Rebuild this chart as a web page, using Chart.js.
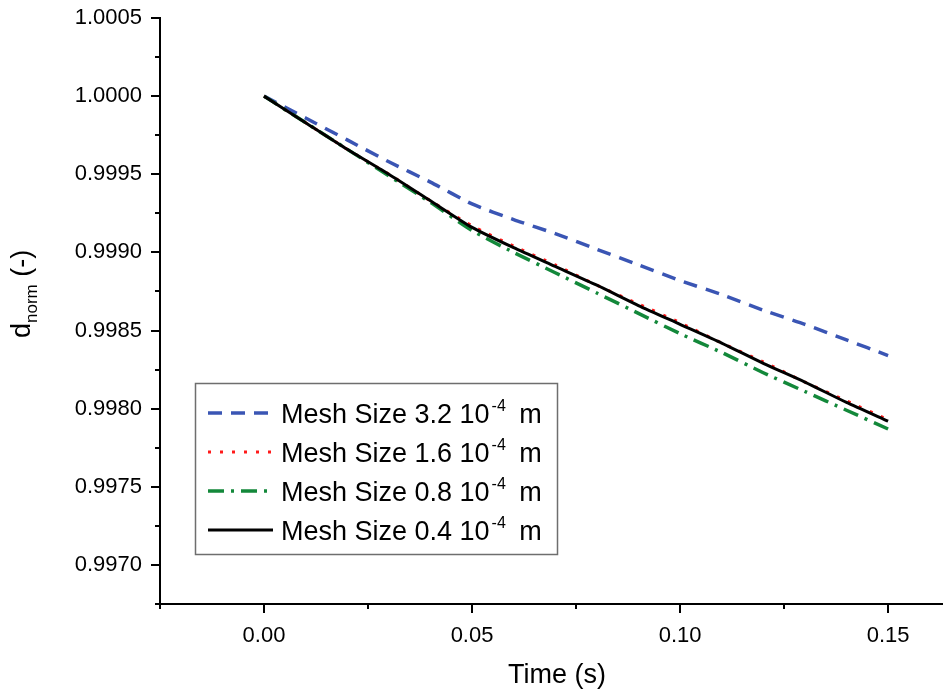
<!DOCTYPE html>
<html lang="en">
<head>
    <meta charset="UTF-8">
    <title>Mesh size study</title>
    <style>
        body { margin: 0; background: #ffffff; }
        #wrap { width: 943px; height: 691px; }
    </style>
</head>
<body>
    <div id="wrap"><canvas id="meshChart" width="943" height="691"></canvas></div>
    <script src="https://cdn.jsdelivr.net/npm/chart.js"></script>
    <script>
        // time (s)
        const times = [0, 0.01, 0.02, 0.03, 0.04, 0.05, 0.06, 0.07, 0.08, 0.09, 0.10, 0.11, 0.12, 0.13, 0.14, 0.15];
        // d_norm for each mesh size
        const mesh32 = [1.0, 0.99986, 0.99972, 0.99958, 0.99945, 0.99931, 0.99921, 0.99912, 0.99902, 0.99892, 0.99882, 0.99873, 0.99863, 0.99854, 0.99844, 0.99834];
        const mesh16 = [1.0, 0.99983, 0.99966, 0.99950, 0.99933, 0.99917, 0.99904, 0.99892, 0.99879, 0.99867, 0.99855, 0.99842, 0.99830, 0.99817, 0.99805, 0.99793];
        const mesh08 = [1.0, 0.99983, 0.99966, 0.99949, 0.99932, 0.99914, 0.99900, 0.99887, 0.99874, 0.99861, 0.99848, 0.99836, 0.99823, 0.99811, 0.99799, 0.99787];
        const mesh04 = [1.0, 0.99983, 0.99966, 0.99950, 0.99933, 0.99916, 0.99903, 0.99891, 0.99879, 0.99866, 0.99854, 0.99842, 0.99829, 0.99817, 0.99804, 0.99792];

        const seriesNames = ['Mesh Size 3.2 10', 'Mesh Size 1.6 10', 'Mesh Size 0.8 10', 'Mesh Size 0.4 10'];
        const xTicks = [0, 0.05, 0.10, 0.15];
        const xMinorTicks = [-0.025, 0.025, 0.075, 0.125];
        const yTicks = [0.9970, 0.9975, 0.9980, 0.9985, 0.9990, 0.9995, 1.0000, 1.0005];
        const yMinorTicks = [0.99675, 0.99725, 0.99775, 0.99825, 0.99875, 0.99925, 0.99975, 1.00025];

        const FONT = 'Liberation Sans, Arial, sans-serif';

        function pts(arr) {
            return times.map((t, i) => ({ x: t, y: arr[i] }));
        }

        const styles = [
            { color: '#3a55b4', dash: [14, 9], width: 3.5 },
            { color: '#ff1a1a', dash: [3, 9], width: 3 },
            { color: '#13883a', dash: [16, 7, 3, 7], width: 3.5 },
            { color: '#000000', dash: [], width: 3 }
        ];

        // ticks, axis titles and the boxed legend
        const extras = {
            id: 'extras',
            afterDraw(chart) {
                const ctx = chart.ctx;
                const area = chart.chartArea;
                const xs = chart.scales.x, ys = chart.scales.y;
                ctx.save();
                ctx.strokeStyle = '#000';
                ctx.lineWidth = 2;
                ctx.setLineDash([]);
                ctx.beginPath();
                yTicks.forEach(v => { const p = Math.round(ys.getPixelForValue(v)); ctx.moveTo(area.left - 9, p); ctx.lineTo(area.left, p); });
                yMinorTicks.forEach(v => { const p = Math.round(ys.getPixelForValue(v)); ctx.moveTo(area.left - 5, p); ctx.lineTo(area.left, p); });
                xTicks.forEach(v => { const p = Math.round(xs.getPixelForValue(v)); ctx.moveTo(p, area.bottom); ctx.lineTo(p, area.bottom + 9); });
                xMinorTicks.forEach(v => { const p = Math.round(xs.getPixelForValue(v)); ctx.moveTo(p, area.bottom); ctx.lineTo(p, area.bottom + 5); });
                ctx.stroke();

                ctx.fillStyle = '#000';
                ctx.font = '27px ' + FONT;
                ctx.textAlign = 'center';
                ctx.textBaseline = 'alphabetic';
                ctx.fillText('Time (s)', 557, 683);

                // y title: d_norm (-)
                ctx.translate(30, 338);
                ctx.rotate(-Math.PI / 2);
                ctx.textAlign = 'left';
                ctx.font = '27px ' + FONT;
                ctx.fillText('d', 0, 0);
                let w = ctx.measureText('d').width;
                ctx.font = '17px ' + FONT;
                ctx.fillText('norm', w, 7);
                w += ctx.measureText('norm').width;
                ctx.font = '27px ' + FONT;
                ctx.fillText(' (-)', w, 0);
                ctx.restore();

                // legend
                ctx.save();
                ctx.strokeStyle = '#6e6e6e';
                ctx.lineWidth = 1.5;
                ctx.strokeRect(195.5, 383.5, 362, 171);
                ctx.fillStyle = '#000';
                ctx.textBaseline = 'alphabetic';
                seriesNames.forEach((name, i) => {
                    const y = 413 + i * 39;
                    const s = styles[i];
                    ctx.strokeStyle = s.color;
                    ctx.lineWidth = s.width;
                    ctx.setLineDash(s.dash);
                    ctx.beginPath();
                    ctx.moveTo(208, y);
                    ctx.lineTo(273, y);
                    ctx.stroke();
                    ctx.setLineDash([]);
                    ctx.font = '27px ' + FONT;
                    ctx.fillText(name, 281, y + 10);
                    let x = 281 + ctx.measureText(name).width + 2;
                    ctx.font = '16px ' + FONT;
                    ctx.fillText('-4', x, y - 2);
                    x += ctx.measureText('-4').width + 6;
                    ctx.font = '27px ' + FONT;
                    ctx.fillText(' m', x, y + 10);
                });
                ctx.restore();
            }
        };

        const datasets = [mesh32, mesh16, mesh08, mesh04].map((arr, i) => ({
            label: seriesNames[i],
            data: pts(arr),
            borderColor: styles[i].color,
            borderDash: styles[i].dash,
            borderWidth: styles[i].width,
            pointRadius: 0,
            fill: false,
            tension: 0.2,
            order: 3 - i
        }));

        new Chart(document.getElementById('meshChart'), {
            type: 'line',
            data: { datasets: datasets },
            options: {
                responsive: false,
                animation: false,
                layout: { padding: { top: 18, right: 0, left: 0, bottom: 0 } },
                plugins: {
                    legend: { display: false },
                    tooltip: { enabled: false }
                },
                scales: {
                    x: {
                        type: 'linear',
                        min: -0.025,
                        max: 0.1632,
                        afterFit: s => { s.height = 87; s.paddingLeft = 0; s.paddingRight = 0; },
                        afterBuildTicks: s => { s.ticks = xTicks.map(v => ({ value: v })); },
                        grid: { display: false, drawTicks: false },
                        border: { display: true, color: '#000', width: 2 },
                        ticks: {
                            padding: 19,
                            color: '#000',
                            font: { family: FONT, size: 22 },
                            callback: v => v.toFixed(2)
                        }
                    },
                    y: {
                        type: 'linear',
                        min: 0.99675,
                        max: 1.0005,
                        afterFit: s => { s.width = 160; s.paddingTop = 0; s.paddingBottom = 0; },
                        afterBuildTicks: s => { s.ticks = yTicks.map(v => ({ value: v })); },
                        grid: { display: false, drawTicks: false },
                        border: { display: true, color: '#000', width: 2 },
                        ticks: {
                            padding: 18,
                            color: '#000',
                            font: { family: FONT, size: 22 },
                            callback: v => v.toFixed(4)
                        }
                    }
                }
            },
            plugins: [extras]
        });
    </script>
</body>
</html>
